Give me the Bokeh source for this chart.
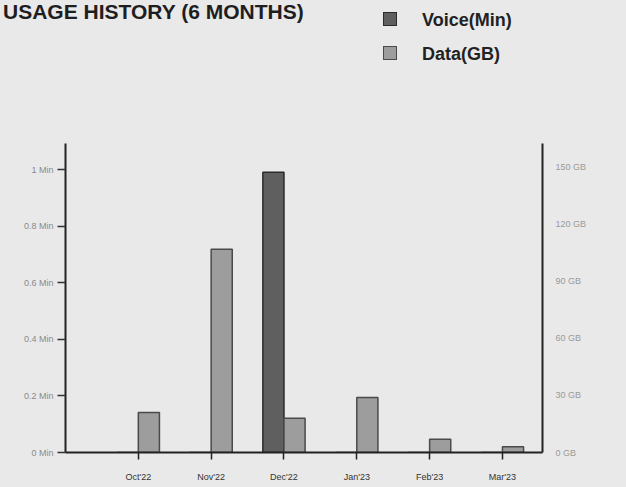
from bokeh.plotting import figure
from bokeh.layouts import column
from bokeh.models import Range1d, LinearAxis, FixedTicker, ColumnDataSource, Div
from bokeh.embed import file_html
from bokeh.resources import INLINE

title_text = "USAGE HISTORY (6 MONTHS)"
series_names = ["Voice(Min)", "Data(GB)"]
months = ["Oct'22", "Nov'22", "Dec'22", "Jan'23", "Feb'23", "Mar'23"]
voice_min = [0.0, 0.0, 0.99, 0.0, 0.0, 0.0]
data_gb = [21, 107, 18, 29, 7, 3]
left_ticks = [0, 0.2, 0.4, 0.6, 0.8, 1.0]
left_labels = ["0 Min", "0.2 Min", "0.4 Min", "0.6 Min", "0.8 Min", "1 Min"]
right_ticks = [0, 30, 60, 90, 120, 150]
right_labels = ["0 GB", "30 GB", "60 GB", "90 GB", "120 GB", "150 GB"]

BG = "#e9e9e9"
VOICE_FILL, VOICE_LINE = "#5f5f5f", "#2a2a2a"
DATA_FILL, DATA_LINE = "#9d9d9d", "#4a4a4a"
idx = list(range(len(months)))
bw = 0.29
src = ColumnDataSource(dict(
    xv=[i - bw / 2 for i in idx], xd=[i + bw / 2 for i in idx],
    voice=voice_min, data=data_gb))

# ---- header (title + legend) ----
HEAD_H = 143
swatches = [(VOICE_FILL, VOICE_LINE), (DATA_FILL, DATA_LINE)]
parts = [f'<div style="position:absolute;left:3px;top:1px;font:bold 21px/21px \'Liberation Sans\';'
         f'color:#1e1e1e;white-space:nowrap;">{title_text}</div>']
for k, (name, (fc, lc)) in enumerate(zip(series_names, swatches)):
    top = 12 + 34 * k
    parts.append(f'<div style="position:absolute;left:383px;top:{top}px;width:14px;height:14px;'
                 f'background:{fc};border:1.5px solid {lc};"></div>')
    parts.append(f'<div style="position:absolute;left:422px;top:{top - 1}px;font:bold 18px/18px '
                 f'\'Liberation Sans\';color:#222222;white-space:nowrap;">{name}</div>')
head = Div(text='<div style="position:relative;width:626px;height:%dpx;">%s</div>'
                % (HEAD_H, "".join(parts)),
           width=626, height=HEAD_H, margin=0,
           styles={"background-color": BG, "overflow": "hidden"})

# ---- main chart ----
p = figure(width=626, height=487 - HEAD_H, output_backend="svg", toolbar_location=None,
           x_range=Range1d(-1.0, 5.55), y_range=Range1d(0, 1.092),
           min_border_left=65, min_border_right=84, min_border_top=0,
           min_border_bottom=35, background_fill_color=BG, border_fill_color=BG,
           outline_line_color=None, margin=0)
p.extra_y_ranges = {"gb": Range1d(0, 162.6)}
p.xgrid.visible = False
p.ygrid.visible = False

p.vbar(x="xv", top="voice", width=bw, source=src, fill_color=VOICE_FILL,
       line_color=VOICE_LINE, line_width=1.5)
p.vbar(x="xd", top="data", width=bw, source=src, y_range_name="gb",
       fill_color=DATA_FILL, line_color=DATA_LINE, line_width=1.5)

xa = p.xaxis[0]
xa.ticker = FixedTicker(ticks=idx)
xa.major_label_overrides = {i: m for i, m in zip(idx, months)}
xa.axis_line_color = "#222222"
xa.axis_line_width = 2
xa.major_tick_out = 7
xa.major_tick_in = 0
xa.major_tick_line_color = "#222222"
xa.major_tick_line_width = 1.5
xa.minor_tick_out = 0
xa.minor_tick_in = 0
xa.major_label_standoff = 12
xa.major_label_text_font = "Liberation Sans"
xa.major_label_text_font_size = "9px"
xa.major_label_text_color = "#333333"

ya = p.yaxis[0]
ya.ticker = FixedTicker(ticks=left_ticks)
ya.major_label_overrides = {t: l for t, l in zip(left_ticks, left_labels)}
ya.axis_line_color = "#222222"
ya.axis_line_width = 2
ya.major_tick_out = 8
ya.major_tick_in = 0
ya.major_tick_line_color = "#333333"
ya.major_tick_line_width = 1.5
ya.minor_tick_out = 0
ya.minor_tick_in = 0
ya.major_label_standoff = 4
ya.major_label_text_font = "Liberation Sans"
ya.major_label_text_font_size = "9px"
ya.major_label_text_color = "#8a8a8a"

ra = LinearAxis(y_range_name="gb", ticker=FixedTicker(ticks=right_ticks))
ra.major_label_overrides = {t: l for t, l in zip(right_ticks, right_labels)}
ra.axis_line_color = "#222222"
ra.axis_line_width = 2
ra.major_tick_out = 0
ra.major_tick_in = 0
ra.minor_tick_out = 0
ra.minor_tick_in = 0
ra.major_label_standoff = 13
ra.major_label_text_font = "Liberation Sans"
ra.major_label_text_font_size = "9px"
ra.major_label_text_color = "#9a9a9a"
p.add_layout(ra, "right")

layout = column(head, p, spacing=0)
html = file_html(layout, INLINE)
html = html.replace("<head>", "<head><style>body{background:#e9e9e9;}</style>", 1)
open("out.html", "w").write(html)
